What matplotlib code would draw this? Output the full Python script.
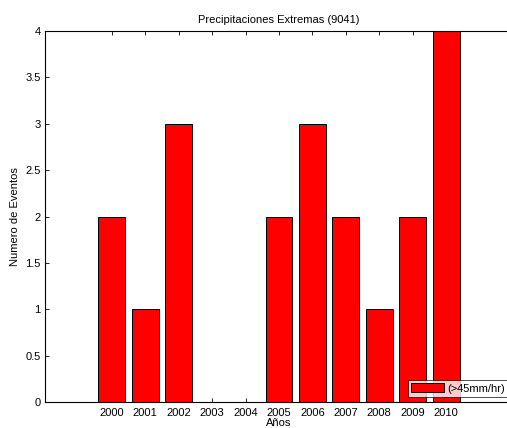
import matplotlib
matplotlib.use("Agg")
import matplotlib.pyplot as plt

years = [2000, 2001, 2002, 2003, 2004, 2005, 2006, 2007, 2008, 2009, 2010]
events = [2, 1, 3, 0, 0, 2, 3, 2, 1, 2, 4]
yticks = [0, 0.5, 1, 1.5, 2, 2.5, 3, 3.5, 4]
ytick_labels = ["0", "0.5", "1", "1.5", "2", "2.5", "3", "3.5", "4"]

plt.rcParams['font.family'] = ['Liberation Sans', 'DejaVu Sans']

fig = plt.figure(figsize=(5.07, 4.28), dpi=100)
fig.patch.set_facecolor('white')
ax = fig.add_axes([45/507, 26/428, 468/507, 371/428])

ax.bar(years, events, width=0.8, color='#ff0000', edgecolor='black',
       linewidth=0.7, label='(>45mm/hr)', zorder=2)

ax.set_xlim(1998, 2012)
ax.set_ylim(0, 4)
ax.set_xticks(years)
ax.set_xticklabels([str(y) for y in years])
ax.set_yticks(yticks)
ax.set_yticklabels(ytick_labels)
ax.tick_params(direction='in', top=True, right=True, labelsize=8, length=3,
               width=0.6, pad=3)
ax.tick_params(axis='x', pad=4)
for s in ax.spines.values():
    s.set_linewidth(0.8)

ax.set_title('Precipitaciones Extremas (9041)', fontsize=8, pad=6)
ax.set_xlabel('Años', fontsize=8, labelpad=0)
ax.set_ylabel('Numero de Eventos', fontsize=8, labelpad=4)

leg = fig.legend(loc='lower left', bbox_to_anchor=(408/507, 31/428),
                 fontsize=8, handlelength=2.9, handleheight=0.9,
                 frameon=True, fancybox=False, edgecolor='black',
                 borderpad=0.3, handletextpad=0.3, borderaxespad=0)
leg.get_frame().set_linewidth(0.6)

fig.savefig('out.png', dpi=100, facecolor='white')
